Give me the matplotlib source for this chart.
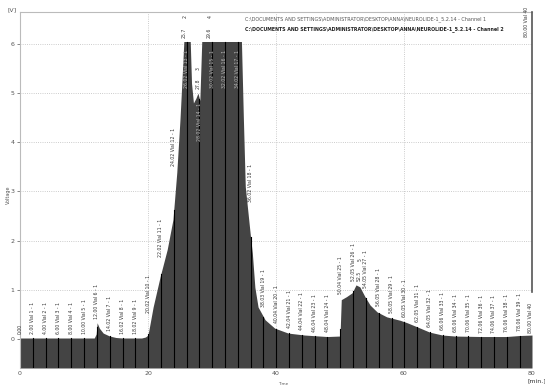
import matplotlib
matplotlib.use("Agg")
import matplotlib.pyplot as plt
import numpy as np

# chromatogram trace (time in min, signal in V)
time = [0.0, 11.6, 11.9, 12.05, 12.4, 13.0, 14.0, 15.0, 16.0, 19.0, 19.6, 20.0,
        20.8, 21.9, 23.0, 23.9, 24.5, 25.0, 25.4, 25.6, 26.6, 26.8, 27.1, 27.5,
        27.8, 28.1, 28.4, 34.6, 34.9, 35.2, 36.0, 36.3, 36.7, 37.2, 38.3, 39.8,
        41.9, 44.5, 48.0, 50.0, 50.2, 51.0, 51.9, 52.5, 53.1, 53.9, 54.7, 55.8,
        57.3, 59.4, 60.5, 62.0, 64.0, 66.0, 68.0, 72.0, 76.0, 78.0, 80.0]
volts = [0.02, 0.02, 0.10, 0.33, 0.22, 0.12, 0.06, 0.03, 0.02, 0.02, 0.04, 0.08,
         0.65, 1.27, 1.82, 2.43, 3.39, 4.47, 5.50, 6.05, 6.05, 5.20, 4.80, 4.90,
         5.00, 4.85, 6.05, 6.05, 4.50, 3.10, 2.10, 1.75, 1.05, 0.65, 0.39, 0.22,
         0.12, 0.08, 0.05, 0.06, 0.80, 0.86, 0.94, 1.10, 1.06, 0.86, 0.69, 0.55,
         0.45, 0.38, 0.33, 0.25, 0.14, 0.08, 0.06, 0.05, 0.05, 0.07, 0.08]

# fraction collector marks
frac_time = [0.00, 2.00, 4.00, 6.00, 8.00, 10.00, 12.00, 14.02, 16.02, 18.02,
             20.02, 22.02, 24.02, 26.02, 28.02, 30.02, 32.02, 34.02, 36.02, 38.03,
             40.04, 42.04, 44.04, 46.04, 48.04, 50.04, 52.05, 54.05, 56.05, 58.05,
             60.05, 62.05, 64.05, 66.06, 68.06, 70.06, 72.06, 74.06, 76.06, 78.06]

# peak marks: retention time, peak number
peak_time = [25.7, 27.8, 29.6, 52.5]
peak_num = ["2", "3", "4", "5"]

header1 = "C:\\DOCUMENTS AND SETTINGS\\ADMINISTRATOR\\DESKTOP\\ANNA\\NEUROLIDE-1_5.2.14 - Channel 1"
header2 = "C:\\DOCUMENTS AND SETTINGS\\ADMINISTRATOR\\DESKTOP\\ANNA\\NEUROLIDE-1_5.2.14 - Channel 2"

W, H = 545, 389
fig = plt.figure(figsize=(W / 100, H / 100), dpi=100)
ax = fig.add_axes([20 / W, 1 - 368 / H, 512 / W, 356 / H])

ymin, ymax = -0.59, 6.65
t = np.array(time)
v = np.array(volts)
ax.fill_between(t, v, ymin, color="#444444", lw=0, zorder=2)

for gx in [20, 40, 60]:
    ax.axvline(gx, color="#bbbbbb", ls=":", lw=0.6, zorder=1)
for gy in range(0, 7):
    ax.axhline(gy, color="#bbbbbb", ls=":", lw=0.6, zorder=1)


def level(x, w=0.5):
    sel = np.linspace(x - w, x + w, 21)
    return np.interp(sel, t, v).max()


fs = 3.3
for k, ft in enumerate(frac_time):
    if k == 0:
        label = "%.2f" % ft
    else:
        label = "%.2f Vial %d - 1" % (ft, k)
    top = np.interp(ft, t, v)
    if k > 0:
        ax.plot([ft, ft], [ymin, top], color="black", lw=0.8, zorder=3)
    y = level(ft) + 0.08
    if y + 0.85 > 5.4:
        ax.text(ft, min(top, 5.95) - 0.08, label, rotation=90, fontsize=fs,
                ha="center", va="top", color="#bbbbbb", zorder=4)
    else:
        ax.text(ft, y, label, rotation=90, fontsize=fs, ha="center",
                va="bottom", color="#333333", zorder=4)

# last vial at the right edge
ax.plot([80, 80], [0.95, ymax], color="#555555", lw=1.2, zorder=3, clip_on=False)
ax.text(79.8, 0.12, "80.00 Vial 40", rotation=90, fontsize=fs, ha="center",
        va="bottom", color="#333333")
ax.text(79.2, 6.76, "80.00 Vial 40", rotation=90, fontsize=fs, ha="center",
        va="top", color="#333333", clip_on=False)

for pt, pn in zip(peak_time, peak_num):
    top = min(np.interp(pt, t, v), 6.05)
    if top >= 6.0:
        y = 6.12
    else:
        y = top + 0.08
    px = pt + 0.5 if pt > 50 else pt
    ax.text(px, y, "%.1f" % pt, rotation=90, fontsize=fs, ha="center",
            va="bottom", color="#333333", clip_on=False)
    ax.text(px + 0.1, y + 0.4, pn, rotation=90, fontsize=fs, ha="center",
            va="bottom", color="#333333", clip_on=False)

ax.set_xlim(0, 80)
ax.set_ylim(ymin, ymax)
ax.set_xticks([0, 20, 40, 60, 80])
ax.set_yticks(range(0, 7))
ax.tick_params(labelsize=4.5, colors="#555555", length=2, width=0.5, pad=2)
ax.tick_params(axis="x", length=0)
for s in ["left", "top"]:
    ax.spines[s].set_color("#bbbbbb")
    ax.spines[s].set_linewidth(0.8)
ax.spines["right"].set_visible(False)
ax.spines["bottom"].set_visible(False)

fig.text(12 / W, 1 - 10 / H, "[V]", fontsize=4.5, color="#555555", ha="center", va="center")
fig.text(8 / W, 1 - 195 / H, "Voltage", fontsize=3.5, color="#555555", rotation=90,
         ha="center", va="center")
fig.text(283 / W, 1 - 384 / H, "Time", fontsize=3, color="#555555", ha="center", va="center")
fig.text(537 / W, 1 - 381 / H, "[min.]", fontsize=4.5, color="#333333", ha="center", va="center")
fig.text(245 / W, 1 - 19 / H, header1, fontsize=3.5, color="#555555", ha="left", va="center")
fig.text(245 / W, 1 - 29 / H, header2, fontsize=3.4, color="#222222", ha="left", va="center",
         fontweight="bold")

fig.savefig("out.png", dpi=100)
